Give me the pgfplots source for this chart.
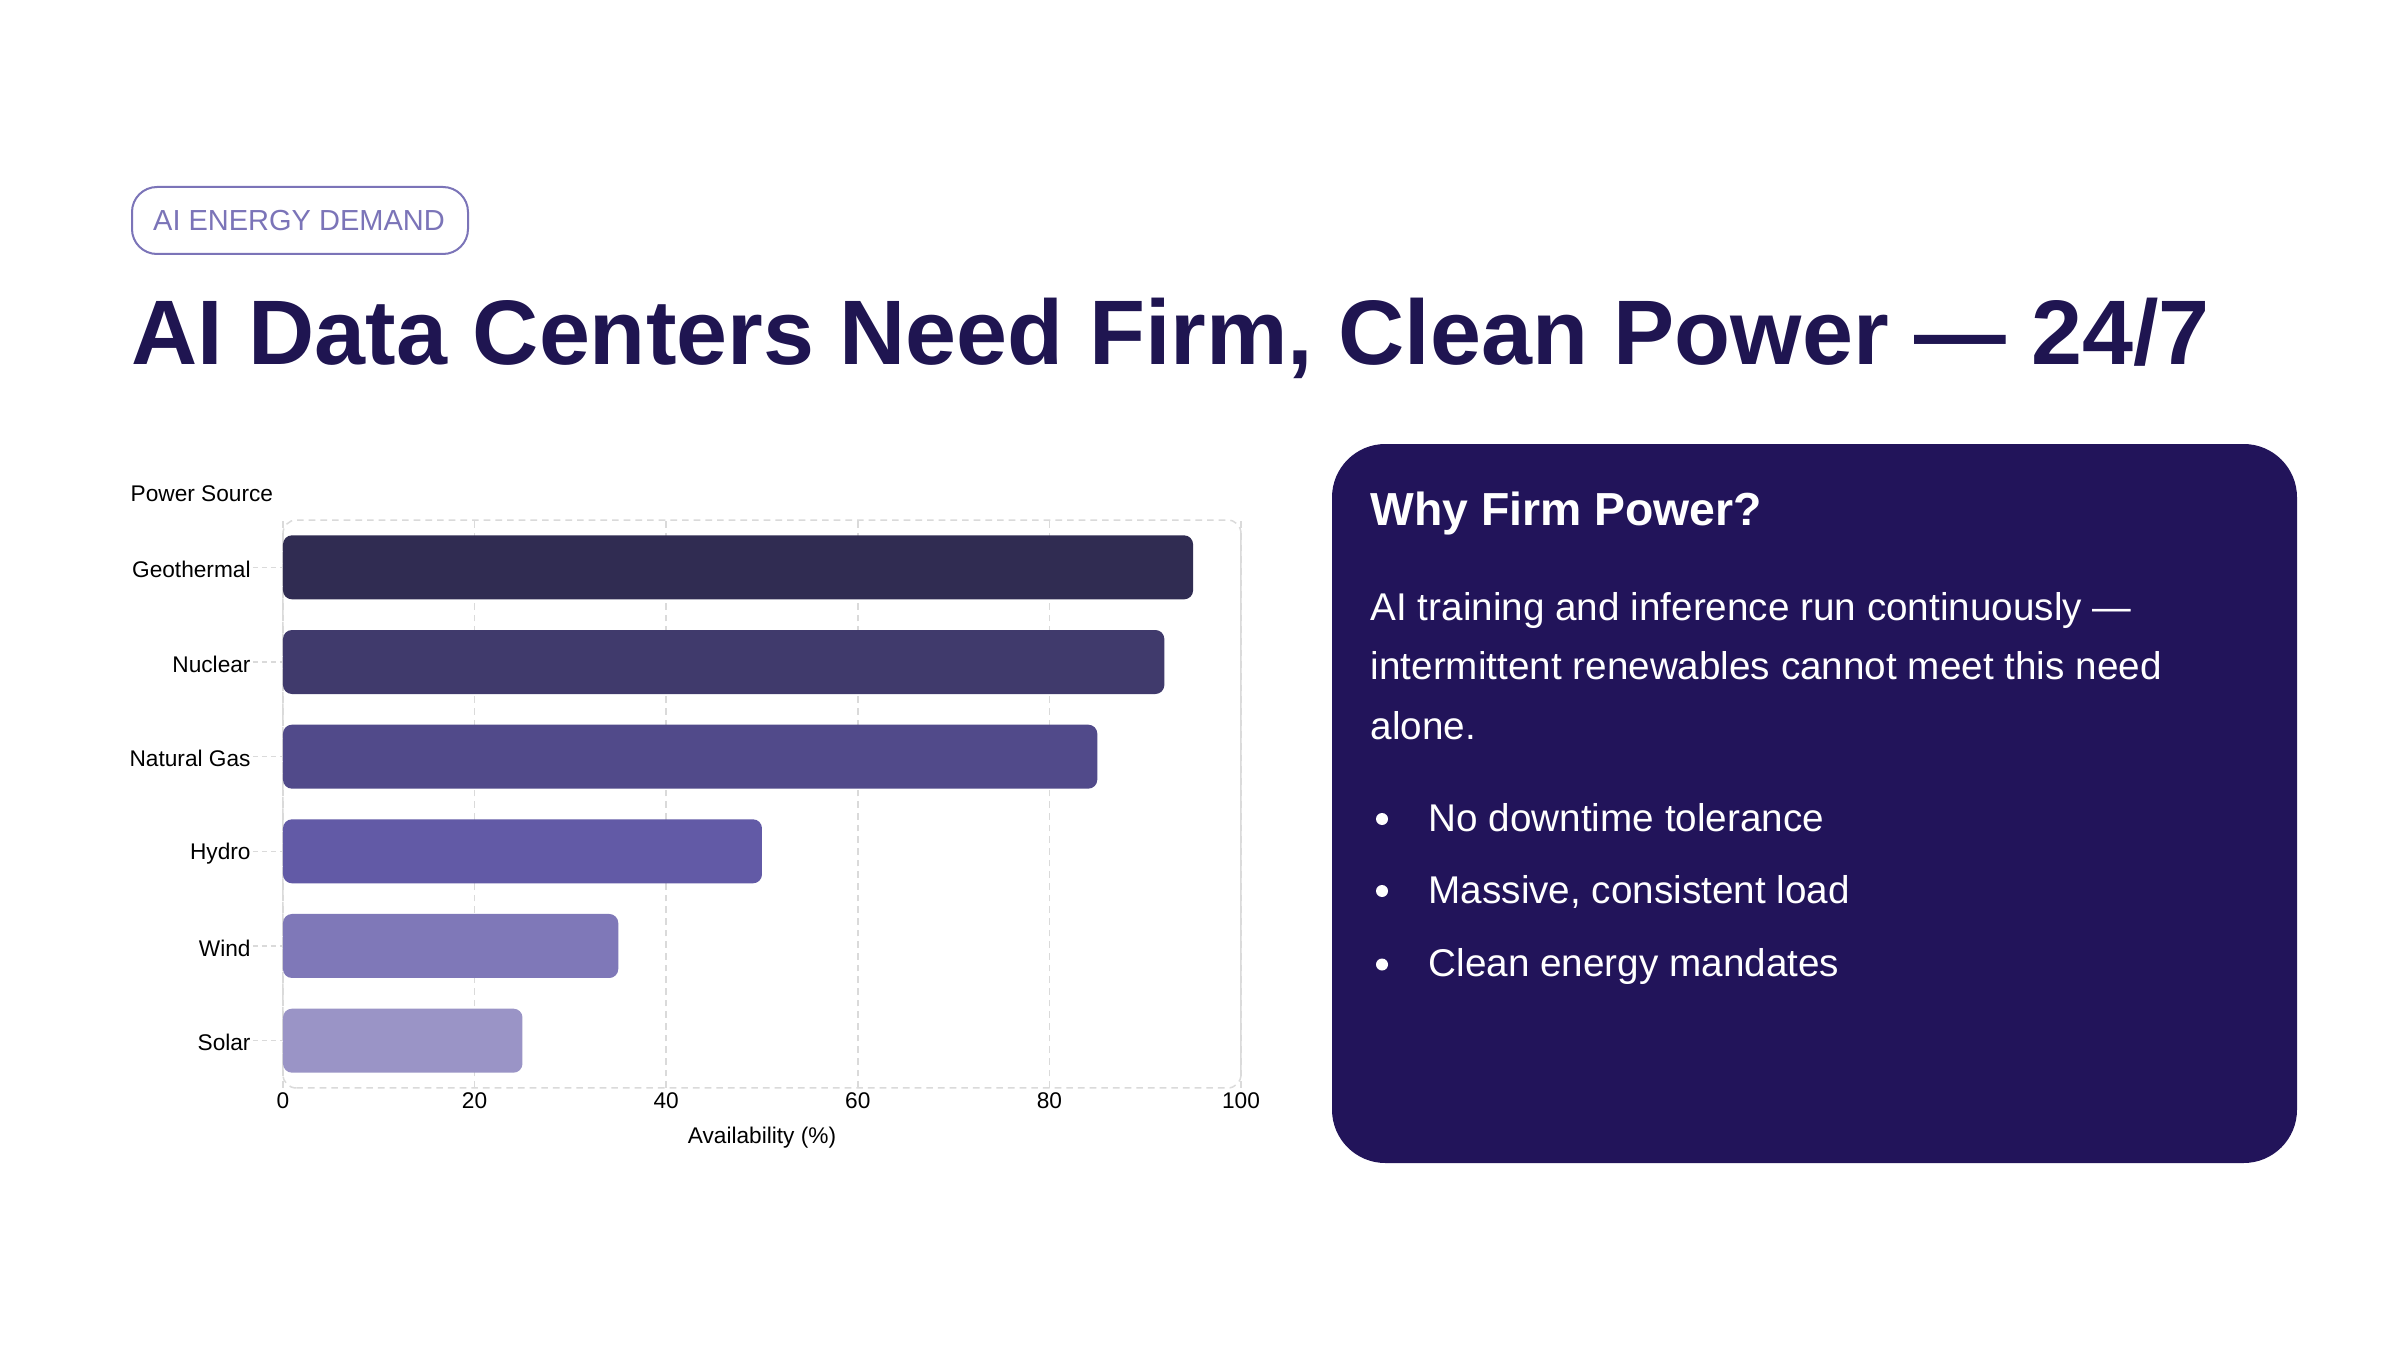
\documentclass[border=0pt]{standalone}
\usepackage{fontspec}
\setmainfont{Liberation Sans}
\usepackage{pgfplots}
\pgfplotsset{compat=1.18}
\definecolor{titlec}{HTML}{1F1551}
\definecolor{tagc}{HTML}{7B74B8}
\definecolor{panelc}{HTML}{22145A}
\definecolor{gridc}{HTML}{DADADA}
\definecolor{cA}{HTML}{302C52}
\definecolor{cB}{HTML}{403A6C}
\definecolor{cC}{HTML}{514A8A}
\definecolor{cD}{HTML}{625AA6}
\definecolor{cE}{HTML}{7F78B8}
\definecolor{cF}{HTML}{9A94C6}
\begin{document}
\begin{tikzpicture}
\begin{scope}[x=0.3pt,y=-0.3pt]
\useasboundingbox (0,0) rectangle (2400,1350);
\fill[white] (0,0) rectangle (2400,1350);
% tag
\draw[tagc, line width=0.6pt, rounded corners=7.5pt] (132,187) rectangle (468,254);
\node[tagc, inner sep=0pt, font=\fontsize{8.7pt}{10pt}\selectfont] at (299,220.5) {AI ENERGY DEMAND};
% title
\node[anchor=base west, inner sep=0pt, text=titlec, font=\bfseries\fontsize{27.5pt}{33pt}\selectfont] at (131,364) {AI Data Centers Need Firm, Clean Power — 24/7};
% power source
\node[anchor=base west, inner sep=0pt, font=\fontsize{6.8pt}{8pt}\selectfont] at (130,501) {Power Source};
% panel
\fill[panelc, rounded corners=16pt] (1332,444) rectangle (2297,1163);
\node[anchor=base west, inner sep=0pt, text=white, font=\bfseries\fontsize{13.9pt}{16pt}\selectfont] at (1370,525) {Why Firm Power?};
\begin{scope}[every node/.style={anchor=base west, inner sep=0pt, text=white, font=\fontsize{11.6pt}{14pt}\selectfont}]
\node at (1370,620) {AI training and inference run continuously —};
\node at (1370,679.5) {intermittent renewables cannot meet this need};
\node at (1370,739) {alone.};
\node at (1428,831) {No downtime tolerance};
\node at (1428,903) {Massive, consistent load};
\node at (1428,976.5) {Clean energy mandates};
\end{scope}
\fill[white] (1382,819) circle (1.8pt);
\fill[white] (1382,891) circle (1.8pt);
\fill[white] (1382,964.5) circle (1.8pt);
\end{scope}
\begin{axis}[
  at={(84.9pt,-326.4pt)}, anchor=south west,
  scale only axis, width=287.4pt, height=170.4pt,
  xmin=0, xmax=100, ymin=-0.5, ymax=5.5,
  axis line style={draw=none},
  axis background/.style={draw=gridc, dash pattern=on 2pt off 1.5pt, line width=0.45pt, rounded corners=4pt},
  xtick={0,20,...,100},
  ytick={0,1,2,3,4,5},
  yticklabels={Solar,Wind,Hydro,Natural Gas,Nuclear,Geothermal},
  xmajorgrids,
  grid style={gridc, dash pattern=on 2pt off 1.5pt, line width=0.45pt},
  tick pos=left,
  xtick align=inside,
  ytick align=outside,
  xtick style={draw=none},
  ytick style={gridc, dash pattern=on 1.5pt off 1.2pt, line width=0.45pt},
  major tick length=9pt,
  tick label style={font=\fontsize{6.8pt}{8pt}\selectfont, text=black},
  yticklabel style={xshift=2.8pt, yshift=-0.6pt},
  xticklabel style={yshift=2pt},
  /pgf/number format/assume math mode=true,
  xlabel={Availability (\%)},
  xlabel style={font=\fontsize{6.8pt}{8pt}\selectfont, text=black, yshift=1.5pt},
  clip=false,
]
\addplot[xbar, bar width=19.2pt, bar shift=0pt, fill=cF, draw=none, rounded corners=2.7pt] coordinates {(25,0)};
\addplot[xbar, bar width=19.2pt, bar shift=0pt, fill=cE, draw=none, rounded corners=2.7pt] coordinates {(35,1)};
\addplot[xbar, bar width=19.2pt, bar shift=0pt, fill=cD, draw=none, rounded corners=2.7pt] coordinates {(50,2)};
\addplot[xbar, bar width=19.2pt, bar shift=0pt, fill=cC, draw=none, rounded corners=2.7pt] coordinates {(85,3)};
\addplot[xbar, bar width=19.2pt, bar shift=0pt, fill=cB, draw=none, rounded corners=2.7pt] coordinates {(92,4)};
\addplot[xbar, bar width=19.2pt, bar shift=0pt, fill=cA, draw=none, rounded corners=2.7pt] coordinates {(95,5)};
\end{axis}
\end{tikzpicture}
\end{document}
